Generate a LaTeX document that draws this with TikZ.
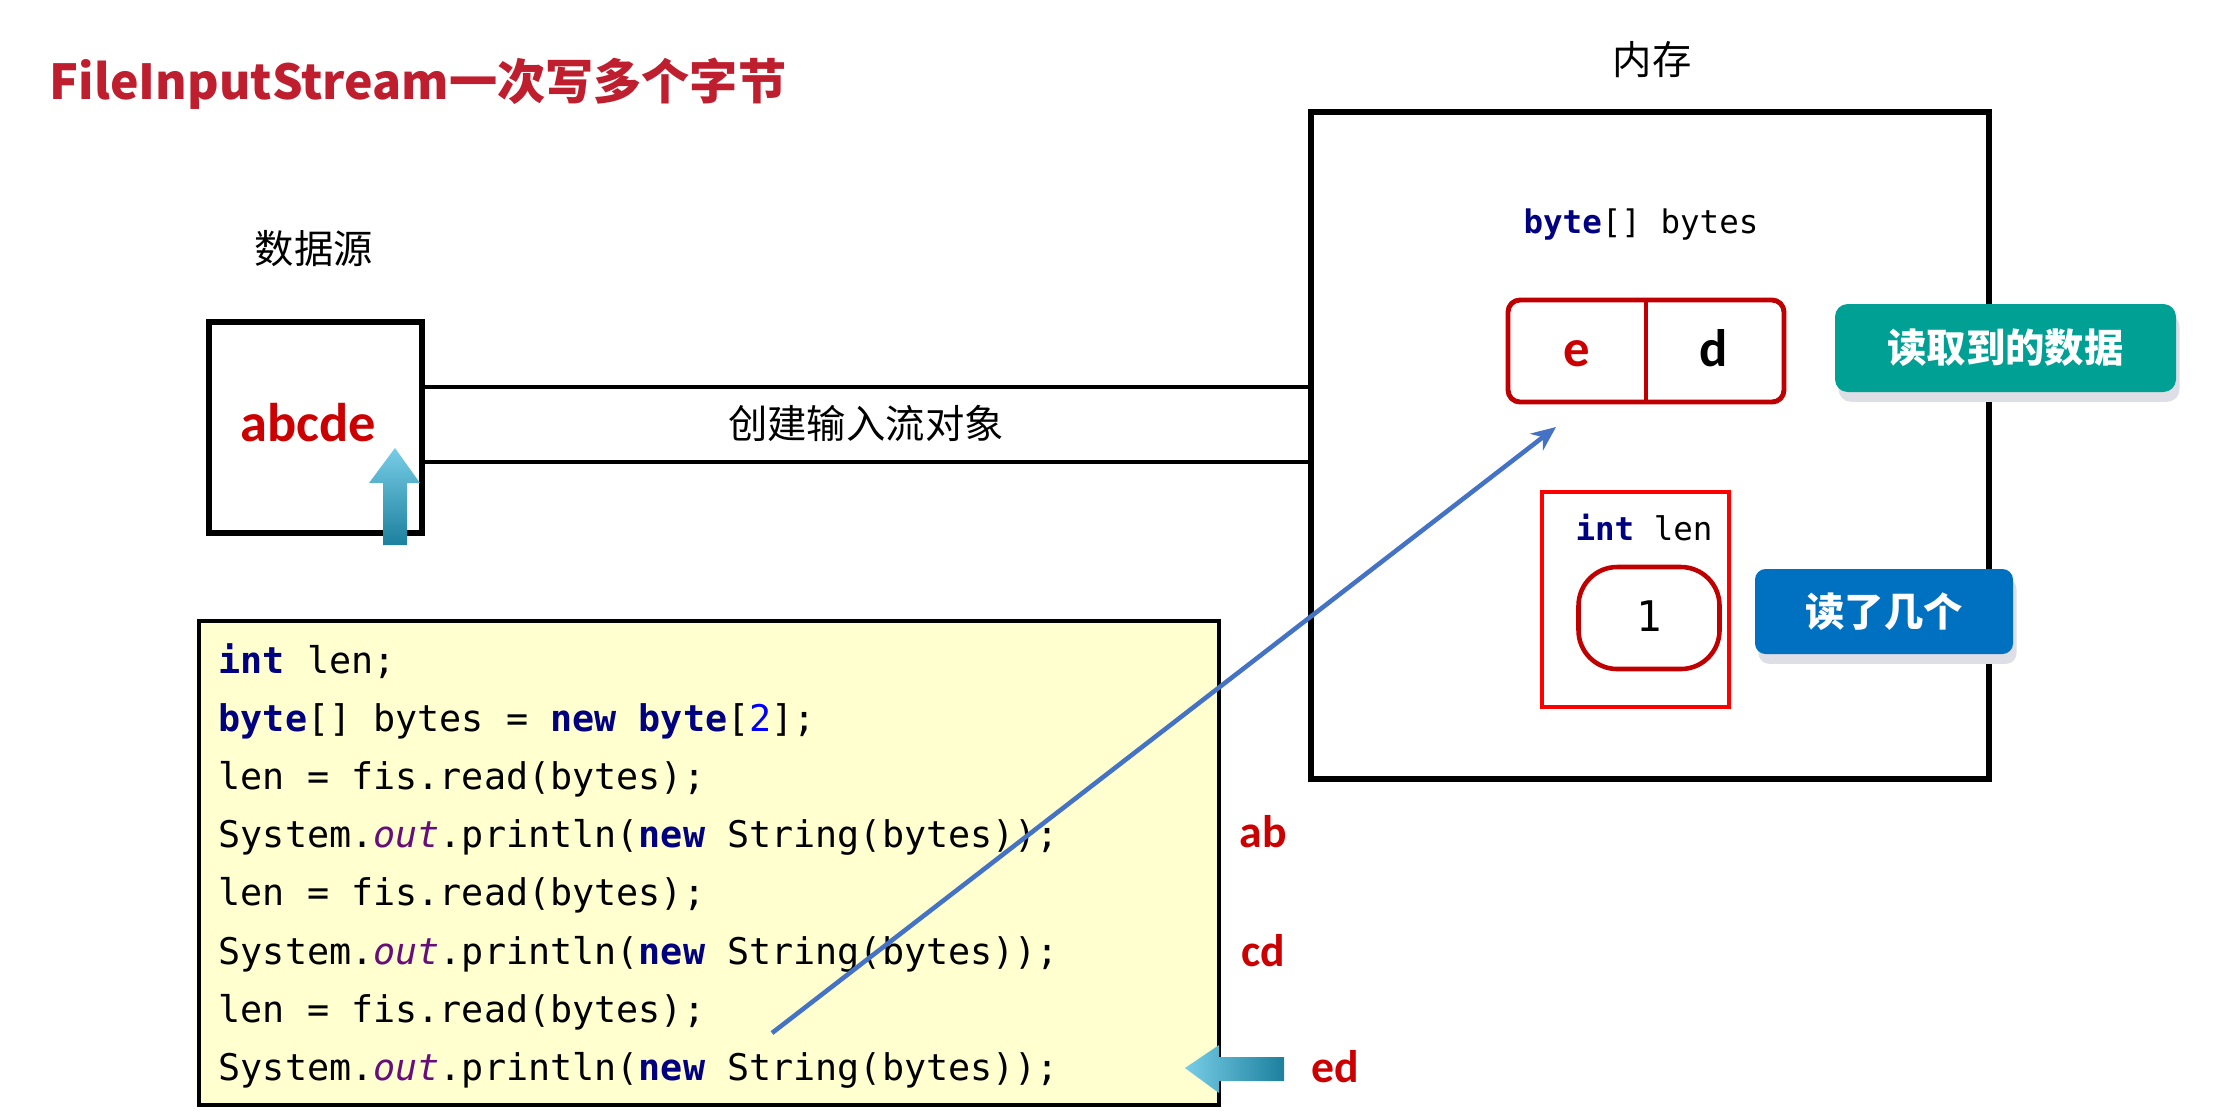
\documentclass[tikz,border=0pt]{standalone}
\usepackage{fontspec}
\setmainfont{Noto Sans CJK SC}
\setmonofont{DejaVu Sans Mono}
\newfontfamily\calib{Carlito}
\usetikzlibrary{arrows.meta, positioning, shapes.geometric, shadows}

\definecolor{titlered}{RGB}{190,30,45}
\definecolor{abred}{RGB}{204,0,0}
\definecolor{arrred}{RGB}{192,0,0}
\definecolor{lenred}{RGB}{255,0,0}
\definecolor{tealbox}{RGB}{0,161,148}
\definecolor{bluebox}{RGB}{0,112,192}
\definecolor{codebg}{RGB}{255,255,208}
\definecolor{readblue}{RGB}{68,114,196}
\definecolor{shadowgrey}{RGB}{222,222,230}
\definecolor{kwnavy}{RGB}{0,0,128}
\definecolor{fldpurple}{RGB}{102,14,122}
\definecolor{numblue}{RGB}{0,0,255}
\definecolor{cyanlight}{RGB}{120,205,230}
\definecolor{cyandark}{RGB}{28,128,158}

% Java 代码着色
\newcommand{\javakw}[1]{{\color{kwnavy}\bfseries #1}}
\newcommand{\javafld}[1]{{\color{fldpurple}\itshape #1}}
\newcommand{\javanum}[1]{{\color{numblue}#1}}

\begin{document}
\begin{tikzpicture}[
  >=Stealth,
  x=0.1mm, y=-0.1mm, % 1 单位 = 参考图 1 像素,y 向下
  cntext/.style={font=\fontsize{11.2}{13}\selectfont, inner sep=0pt},
  thickbox/.style={draw, line width=1.5pt, inner sep=0pt},
  pipe/.style={line width=1.4pt},
  codeline/.style={font=\ttfamily\fontsize{10.45}{12}\selectfont, anchor=base west, inner sep=0pt},
  memcode/.style={font=\ttfamily\fontsize{9.25}{11}\selectfont, anchor=base, inner sep=0pt},
  redletter/.style={font=\calib\bfseries\fontsize{13}{15}\selectfont, text=abred, anchor=base, inner sep=0pt},
  celltext/.style={font=\calib\bfseries\fontsize{15}{17}\selectfont, anchor=base, inner sep=0pt},
  tagbox/.style={rounded corners=3pt, inner sep=0pt, text=white, font=\bfseries\fontsize{11.2}{13}\selectfont,
    drop shadow={shadow xshift=1pt, shadow yshift=-2.8pt, fill=shadowgrey, opacity=1}}
]
  \useasboundingbox (0,0) rectangle (2218,1112);

  % 标题
  \node[anchor=base west, inner sep=0pt, text=titlered, font=\bfseries\fontsize{13.7}{16}\selectfont]
    (title) at (49,99) {FileInputStream一次写多个字节};

  % 数据源
  \node[thickbox, minimum width=21.3mm, minimum height=21.1mm] (srcbox) at (315.5,427.5) {};
  \node[cntext] (srclabel) at (314,249) {数据源};
  \node[redletter, font=\calib\bfseries\fontsize{15.5}{17}\selectfont] (srcdata) at (308,441) {abcde};

  % 内存
  \node[thickbox, minimum width=67.8mm, minimum height=66.7mm] (membox) at (1650,445.5) {};
  \node[cntext] (memlabel) at (1652,60) {内存};

  % 输入流管道
  \coordinate (pipetop) at (0,387);
  \coordinate (pipebot) at (0,462);
  \draw[pipe] (srcbox.east |- pipetop) -- (membox.west |- pipetop);
  \draw[pipe] (srcbox.east |- pipebot) -- (membox.west |- pipebot);
  \node[cntext] (pipelabel) at (866,423) {创建输入流对象};

  % 读取位置指针
  \shade[top color=cyanlight, bottom color=cyandark]
    (383,545) -- (383,483) -- (369,483) -- (395,448) -- (420,483) -- (407,483) -- (407,545) -- cycle;

  % byte[] bytes 数组
  \node[memcode] (byteslabel) at (1641,233) {\javakw{byte}[] bytes};
  \node[draw=arrred, line width=1.4pt, rounded corners=3.4pt, minimum width=27.6mm, minimum height=10.2mm,
    inner sep=0pt] (arr) at (1646,351) {};
  \draw[draw=arrred, line width=1.4pt] (arr.north) -- (arr.south);
  \node[celltext, text=abred] (cell1) at (1577,366) {e};
  \node[celltext] (cell2) at (1714,366) {d};

  % int len
  \node[draw=lenred, line width=1.1pt, minimum width=18.7mm, minimum height=21.5mm, inner sep=0pt]
    (lenbox) at (1635.5,599.5) {};
  \node[memcode] (lenlabel) at (1644,540) {\javakw{int} len};
  \node[draw=arrred, line width=1.3pt, rounded corners=11pt, minimum width=14.1mm, minimum height=10.2mm, inner sep=0pt]
    (lenval) at (1649,618) {};
  \node[memcode, font=\ttfamily\fontsize{12}{14}\selectfont] (lenone) at (1649,631) {1};

  % 说明标签
  \node[tagbox, fill=tealbox, rounded corners=3.6pt, minimum width=34.1mm, minimum height=8.8mm]
    (datatag) at (2005.5,348) {读取到的数据};
  \node[tagbox, fill=bluebox, minimum width=25.8mm, minimum height=8.5mm]
    (counttag) at (1884,611.5) {读了几个};

  % 代码
  \node[draw, line width=0.9pt, fill=codebg, minimum width=102mm, minimum height=48.4mm, inner sep=0pt]
    (codebox) at (709,863) {};
  \foreach \codetxt [count=\i] in {
    {\javakw{int} len;},
    {\javakw{byte}[] bytes = \javakw{new} \javakw{byte}[\javanum{2}];},
    {len = fis.read(bytes);},
    {System.\javafld{out}.println(\javakw{new} String(bytes));},
    {len = fis.read(bytes);},
    {System.\javafld{out}.println(\javakw{new} String(bytes));},
    {len = fis.read(bytes);},
    {System.\javafld{out}.println(\javakw{new} String(bytes));}} {
    \node[codeline] (code\i) at (218,{673+58.2*(\i-1)}) {\codetxt};
  }

  % 每次输出
  \node[redletter] (outab) at (1263,847) {ab};
  \node[redletter] (outcd) at (1263,966) {cd};
  \node[redletter] (outed) at (1335,1082) {ed};
  \shade[left color=cyanlight, right color=cyandark]
    (1284,1057) -- (1219,1057) -- (1219,1045) -- (1185,1068) -- (1219,1093) -- (1219,1081) -- (1284,1081) -- cycle;

  % 第三次读取
  \coordinate (readfrom) at (772,1033);
  \coordinate (readto) at (1556,427);
  \draw[readblue, line width=1.3pt, -{Stealth[length=7pt, width=6pt]}] (readfrom) -- (readto);
\end{tikzpicture}
\end{document}
